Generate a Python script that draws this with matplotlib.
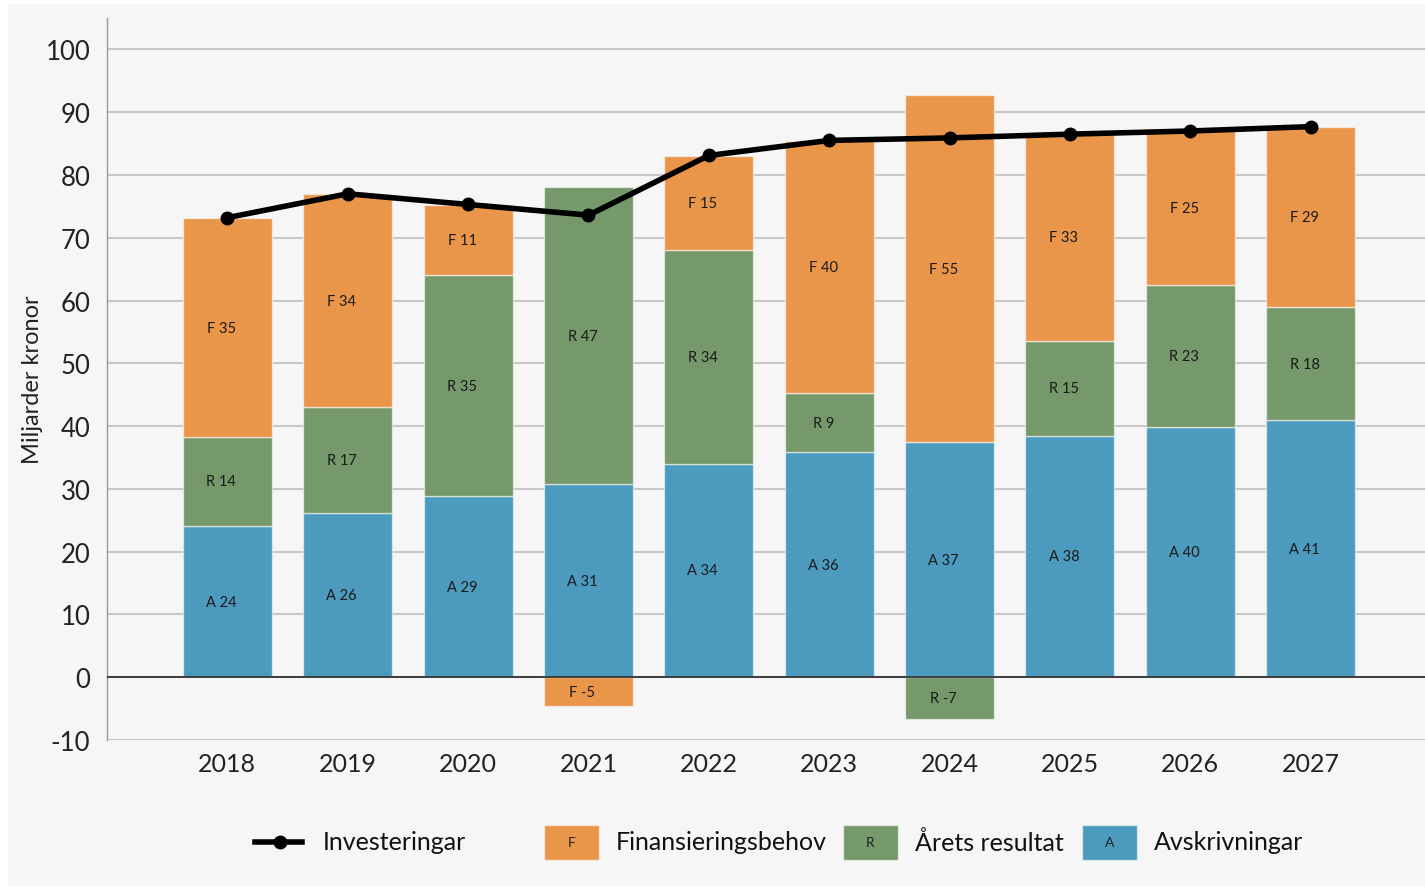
import numpy as np
import matplotlib.pyplot as plt
from matplotlib.patches import Rectangle
from matplotlib.lines import Line2D

plt.rcParams['font.family'] = ['Lato', 'DejaVu Sans']
plt.rcParams['axes.unicode_minus'] = False

years = ['2018', '2019', '2020', '2021', '2022', '2023', '2024', '2025', '2026', '2027']
avskrivningar = [24.1, 26.2, 28.8, 30.7, 34.0, 35.8, 37.4, 38.5, 39.8, 41.0]
resultat = [14.2, 16.9, 35.2, 47.4, 34.1, 9.4, -6.7, 15.1, 22.6, 17.9]
finansiering = [34.8, 33.8, 11.2, -4.6, 14.9, 40.2, 55.3, 32.9, 24.7, 28.7]
investeringar = [73.2, 77.0, 75.3, 73.6, 83.1, 85.5, 85.9, 86.5, 87.0, 87.7]

series = [('A', 'Avskrivningar', avskrivningar, '#4c9bbe'),
          ('R', 'Årets resultat', resultat, '#76996c'),
          ('F', 'Finansieringsbehov', finansiering, '#e9964b')]

W, H = 1425, 887
fig = plt.figure(figsize=(W / 100, H / 100), dpi=100)
fig.patch.set_facecolor('white')
fig.add_artist(Rectangle((8 / W, 0), 1, (H - 5) / H, transform=fig.transFigure,
                         facecolor='#f6f6f6', edgecolor='none', zorder=-10))

ax = fig.add_axes([107 / W, (H - 741) / H, (W - 107) / W, (741 - 19) / H])
ax.set_facecolor('none')

x = np.arange(len(years))
pos = np.zeros(len(years))
neg = np.zeros(len(years))
for letter, name, vals, color in series:
    vals = np.array(vals)
    bottom = np.where(vals >= 0, pos, neg)
    ax.bar(x, vals, bottom=bottom, width=0.74, color=color,
           edgecolor=(1, 1, 1, 0.55), linewidth=1, zorder=2)
    for xi, b, v in zip(x, bottom, vals):
        ax.text(xi - 0.05, b + v / 2, f'{letter} {round(v):d}', ha='center', va='center',
                fontsize=10.5, color='#1a1a1a', zorder=4)
    pos = np.where(vals >= 0, pos + vals, pos)
    neg = np.where(vals < 0, neg + vals, neg)

ax.plot(x, investeringar, color='black', lw=4, marker='o', markersize=9, zorder=5,
        solid_capstyle='round')

ax.axhline(0, color='#333333', lw=1.3, zorder=3)
ax.set_ylim(-10, 105)
ax.set_xlim(-1.0, 9.95)
ax.set_yticks(np.arange(-10, 101, 10))
ax.set_xticks(x)
ax.set_xticklabels(years)
ax.yaxis.grid(True, color='#c8c8c8', lw=1.5, zorder=0)
ax.set_axisbelow(True)
ax.tick_params(axis='y', length=0, pad=12, labelsize=18.5, labelcolor='#222222')
ax.tick_params(axis='x', length=0, pad=9, labelsize=18, labelcolor='#222222')
for s in ['top', 'right', 'bottom']:
    ax.spines[s].set_visible(False)
ax.spines['left'].set_color('#999999')
ax.spines['left'].set_linewidth(1)
ax.set_ylabel('Miljarder kronor', fontsize=17, color='#222222')
ax.yaxis.set_label_coords((43 - 107) / (W - 107), 0.5)

# legend drawn by hand along the bottom
def fx(px):
    return px / W

def fy(py):
    return (H - py) / H

ly = 843
fig.add_artist(Line2D([fx(255), fx(302)], [fy(ly), fy(ly)], color='black', lw=4,
                      marker=None, transform=fig.transFigure))
fig.add_artist(Line2D([fx(280)], [fy(ly)], color='black', marker='o', markersize=9,
                      transform=fig.transFigure))
fig.text(fx(323), fy(ly), 'Investeringar', fontsize=18, va='center', ha='left', color='#111111')

boxes = [(544, 616, series[2]), (843, 915, series[1]), (1082, 1154, series[0])]
for bx, tx, (letter, name, vals, color) in boxes:
    fig.add_artist(Rectangle((fx(bx), fy(861)), fx(55), (861 - 826) / H, facecolor=color,
                             edgecolor=(1, 1, 1, 0.55), lw=1, transform=fig.transFigure))
    fig.text(fx(bx + 27.5), fy(ly), letter, fontsize=10, ha='center', va='center', color='#222222')
    fig.text(fx(tx), fy(ly), name, fontsize=18, va='center', ha='left', color='#111111')

fig.savefig('out.png', dpi=100, facecolor=fig.get_facecolor())
